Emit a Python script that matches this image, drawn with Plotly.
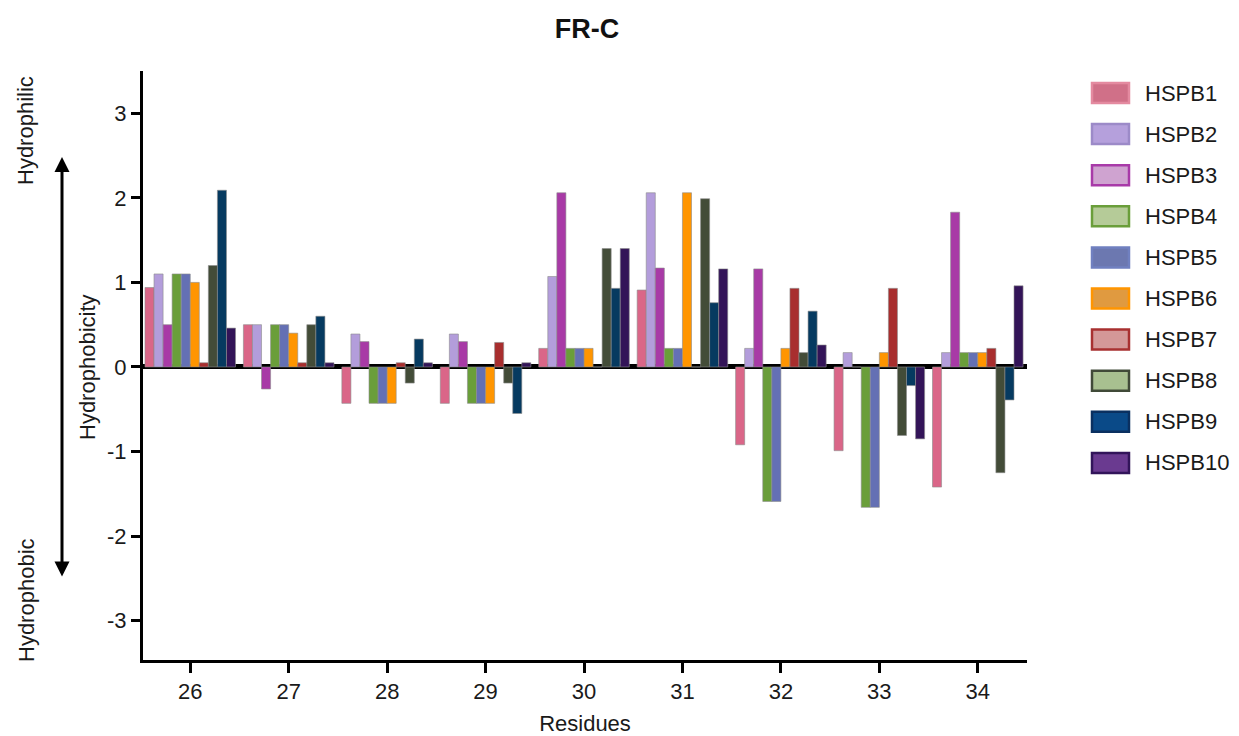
import plotly.graph_objects as go

residues = [26, 27, 28, 29, 30, 31, 32, 33, 34]
y_ticks = [-3, -2, -1, 0, 1, 2, 3]
y_tick_labels = ["-3", "-2", "-1", "0", "1", "2", "3"]
series_names = ["HSPB1", "HSPB2", "HSPB3", "HSPB4", "HSPB5",
                "HSPB6", "HSPB7", "HSPB8", "HSPB9", "HSPB10"]

hspb1 = [0.94, 0.50, -0.43, -0.43, 0.22, 0.91, -0.92, -0.99, -1.42]
hspb2 = [1.10, 0.50, 0.39, 0.39, 1.07, 2.06, 0.22, 0.17, 0.17]
hspb3 = [0.50, -0.26, 0.30, 0.30, 2.06, 1.17, 1.16, 0.0, 1.83]
hspb4 = [1.10, 0.50, -0.43, -0.43, 0.22, 0.22, -1.59, -1.66, 0.17]
hspb5 = [1.10, 0.50, -0.43, -0.43, 0.22, 0.22, -1.59, -1.66, 0.17]
hspb6 = [1.00, 0.40, -0.43, -0.43, 0.22, 2.06, 0.22, 0.17, 0.17]
hspb7 = [0.05, 0.05, 0.05, 0.29, 0.0, 0.0, 0.93, 0.93, 0.22]
hspb8 = [1.20, 0.50, -0.19, -0.19, 1.40, 1.99, 0.17, -0.81, -1.25]
hspb9 = [2.09, 0.60, 0.33, -0.55, 0.93, 0.76, 0.66, -0.22, -0.39]
hspb10 = [0.46, 0.05, 0.05, 0.05, 1.40, 1.16, 0.26, -0.85, 0.96]

values = [hspb1, hspb2, hspb3, hspb4, hspb5, hspb6, hspb7, hspb8, hspb9, hspb10]

bar_colors = ["#DA6688", "#B39DDB", "#A83AA6", "#6A9E3A", "#6470B4",
              "#FF9500", "#A82E2E", "#434C38", "#063A60", "#331458"]
legend_fill = ["#D07088", "#B5A0DC", "#CFA3D0", "#B5CB98", "#6C78B0",
               "#E09A40", "#D49898", "#A8C090", "#0A4A88", "#6A3A90"]
legend_border = ["#E48AA0", "#9C8AC8", "#A83AA8", "#6A9E3A", "#7080C0",
                 "#FF9500", "#A83030", "#404A38", "#0A3060", "#32145A"]

FONT = "Liberation Sans, Arial, Helvetica, sans-serif"
TXT = "#1a1a1a"
FS = 22

fig = go.Figure()
for name, vals, col in zip(series_names, values, bar_colors):
    fig.add_trace(go.Bar(
        x=residues, y=vals, name=name,
        marker=dict(color=col, line=dict(color="rgba(140,140,140,0.6)", width=1)),
        showlegend=False,
    ))

W, H = 1239, 736
ml, mr, mt, mb = 143, 212, 71, 76
pw = W - ml - mr
ph = H - mt - mb

def px_x(px):
    return (px - ml) / pw

def px_y(py):
    return (H - mb - py) / ph

annotations = []
shapes = []

# manual legend
for i, name in enumerate(series_names):
    cy = 93 + i * 41.1
    shapes.append(dict(type="rect", xref="paper", yref="paper",
                       x0=px_x(1092), x1=px_x(1129),
                       y0=px_y(cy + 10), y1=px_y(cy - 10),
                       fillcolor=legend_fill[i],
                       line=dict(color=legend_border[i], width=2.5)))
    annotations.append(dict(text=name, xref="paper", yref="paper",
                            x=px_x(1143), y=px_y(cy), xanchor="left", yanchor="middle",
                            showarrow=False, font=dict(size=FS, color=TXT, family=FONT)))

# left side labels
annotations.append(dict(text="Hydrophilic", xref="paper", yref="paper",
                        x=px_x(26), y=px_y(131), textangle=-90, showarrow=False,
                        xanchor="center", yanchor="middle",
                        font=dict(size=FS, color=TXT, family=FONT)))
annotations.append(dict(text="Hydrophobic", xref="paper", yref="paper",
                        x=px_x(26), y=px_y(600), textangle=-90, showarrow=False,
                        xanchor="center", yanchor="middle",
                        font=dict(size=FS, color=TXT, family=FONT)))
annotations.append(dict(text="Hydrophobicity", xref="paper", yref="paper",
                        x=px_x(87), y=px_y(367), textangle=-90, showarrow=False,
                        xanchor="center", yanchor="middle",
                        font=dict(size=FS, color=TXT, family=FONT)))
# double arrow
annotations.append(dict(text="", xref="paper", yref="paper",
                        x=px_x(62), y=px_y(157), ax=0, ay=421,
                        showarrow=True, arrowhead=2, arrowside="end+start",
                        arrowsize=1, arrowwidth=3, arrowcolor="#000"))

fig.update_layout(
    width=W, height=H,
    margin=dict(l=ml, r=mr, t=mt, b=mb),
    paper_bgcolor="white", plot_bgcolor="white",
    title=dict(text="<b>FR-C</b>", x=px_x(587), y=1 - 29 / H, xref="paper",
               xanchor="center", yanchor="middle",
               font=dict(size=27, color="#111", family=FONT)),
    barmode="group", bargap=0.08, bargroupgap=0,
    xaxis=dict(range=[25.52, 34.5], tickvals=residues, ticktext=[str(r) for r in residues],
               automargin=False,
               showline=True, linecolor="black", linewidth=3,
               ticks="outside", ticklen=10, tickwidth=3, tickcolor="black",
               showgrid=False, zeroline=False,
               tickfont=dict(size=FS, color=TXT, family=FONT),
               title=dict(text="Residues", standoff=15,
                          font=dict(size=FS, color=TXT, family=FONT))),
    yaxis=dict(range=[-3.465, 3.5], tickvals=y_ticks, ticktext=y_tick_labels,
               automargin=False,
               showline=True, linecolor="black", linewidth=3,
               ticks="outside", ticklen=9, tickwidth=3, tickcolor="black",
               showgrid=False, zeroline=True, zerolinecolor="black", zerolinewidth=5,
               tickfont=dict(size=FS, color=TXT, family=FONT)),
    annotations=annotations,
    shapes=shapes,
    showlegend=False,
)

fig.write_html("out.html")
